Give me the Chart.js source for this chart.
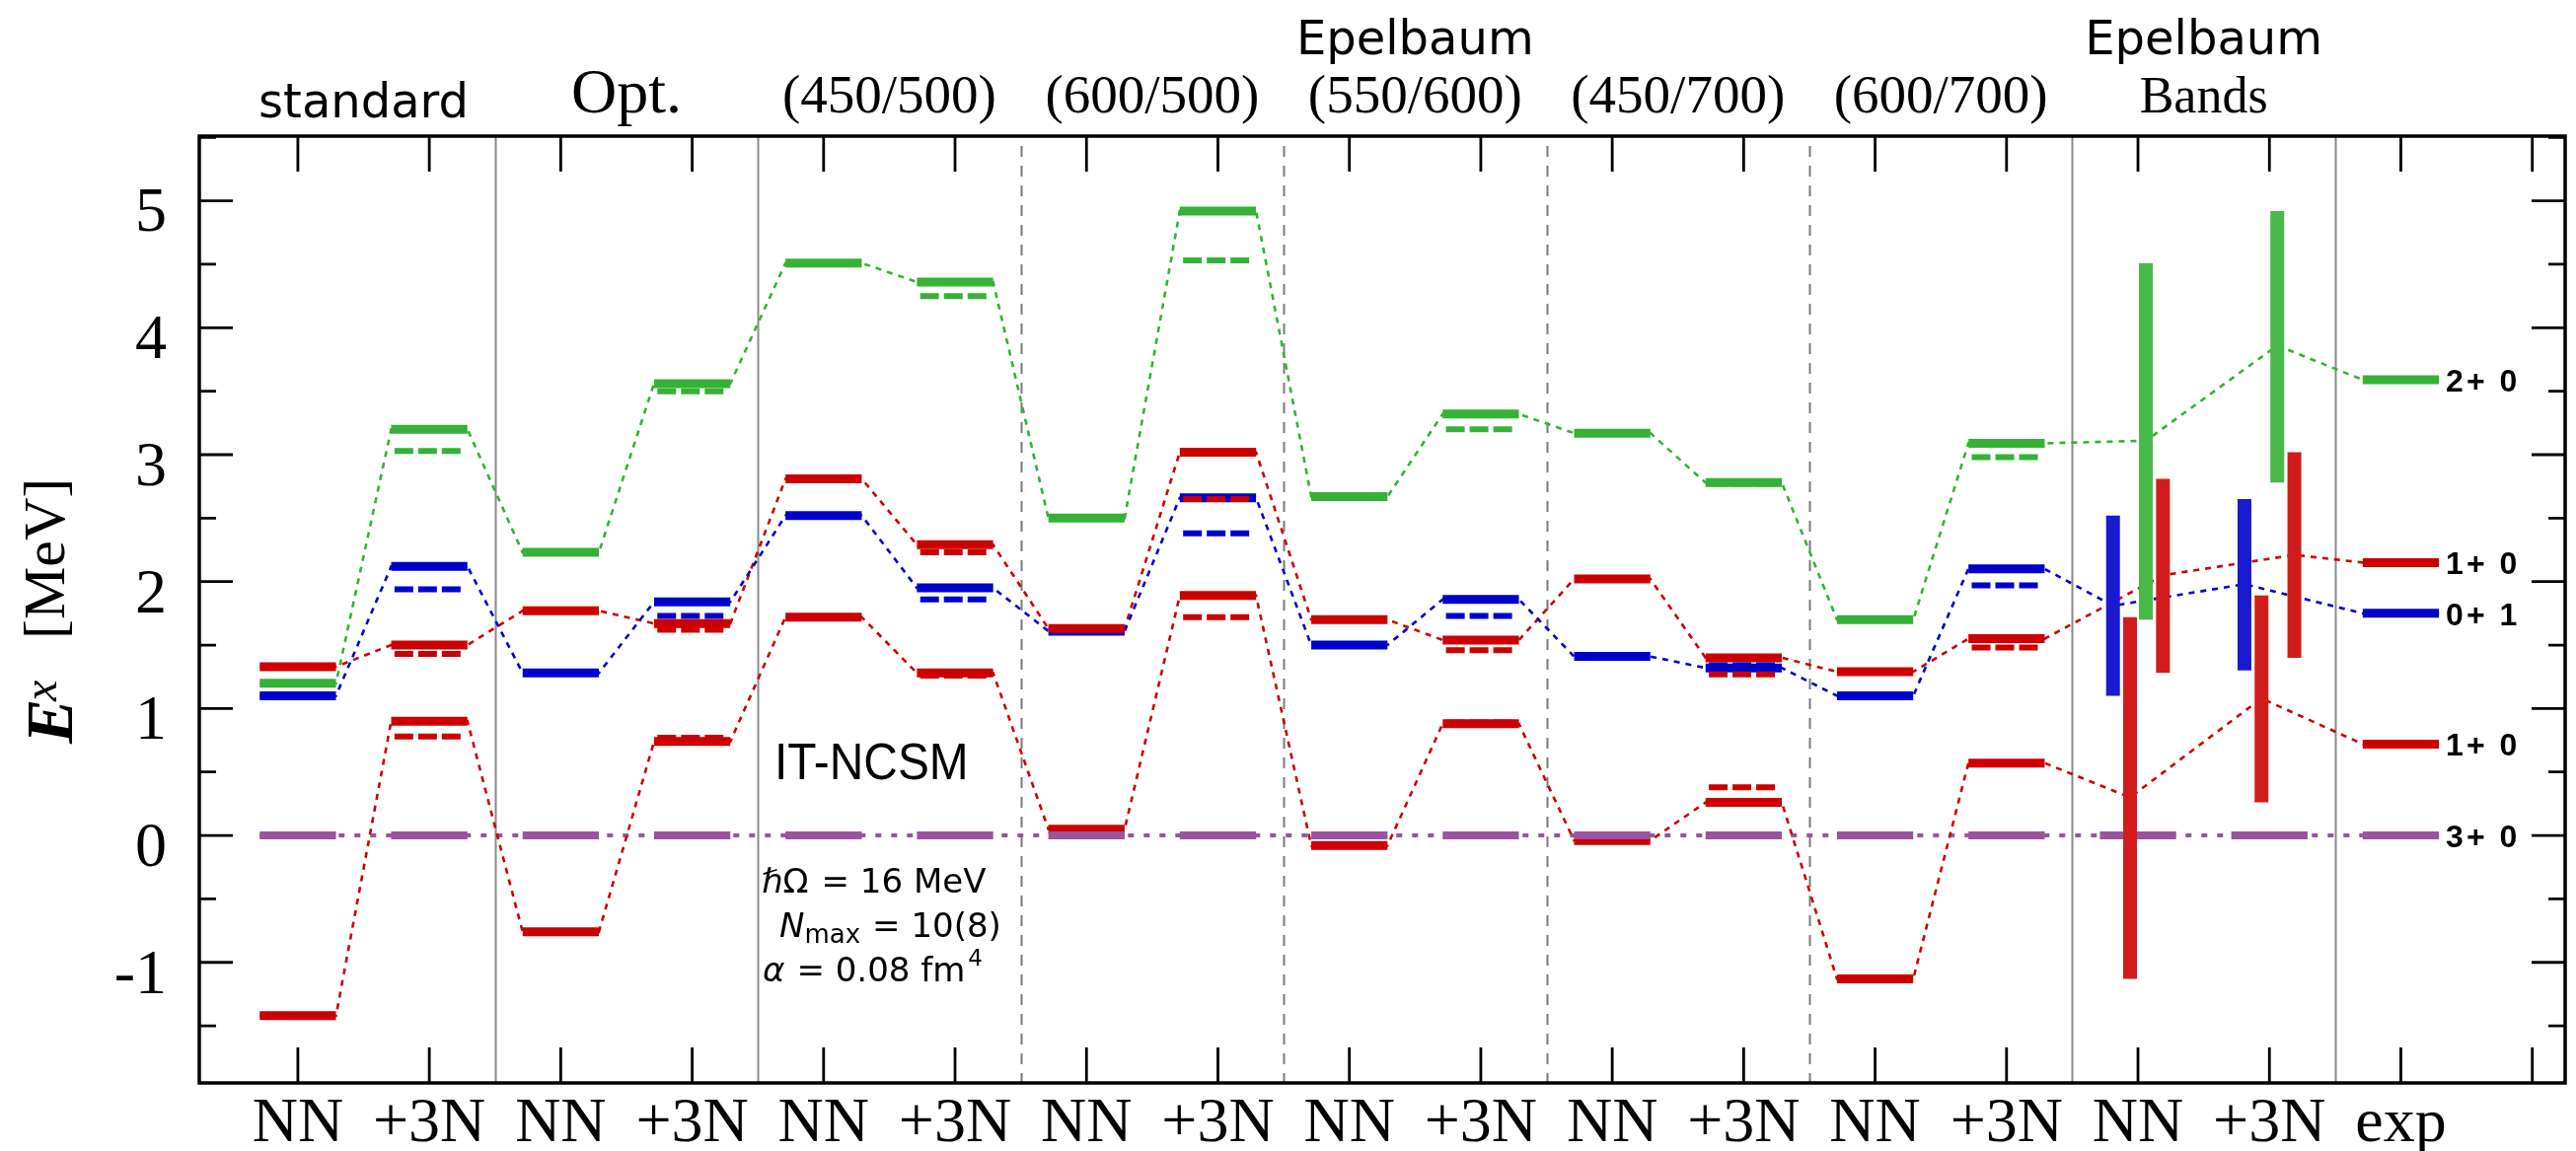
<!DOCTYPE html>
<html>
<head>
<meta charset="utf-8">
<script src="https://cdn.jsdelivr.net/npm/chart.js@4.4.0/dist/chart.umd.min.js"></script>
<style>
  html, body { margin: 0; padding: 0; background: #fff; }
</style>
</head>
<body>
<canvas id="levels" width="2611" height="1167"></canvas>
<script>
// column 1..17 on the x axis, 18 is an unlabelled closing tick
const columnLabels = ['NN', '+3N', 'NN', '+3N', 'NN', '+3N', 'NN', '+3N', 'NN', '+3N',
  'NN', '+3N', 'NN', '+3N', 'NN', '+3N', 'exp'];
const xTicks = [1, 2, 3, 4, 5, 6, 7, 8, 9, 10, 11, 12, 13, 14, 15, 16, 17, 18];
const yTicks = [-1.5, -1, -0.5, 0, 0.5, 1, 1.5, 2, 2.5, 3, 3.5, 4, 4.5, 5, 5.5];

// one title block per pair of columns
const groupTitles = [['standard'], ['Opt.'], ['(450/500)'], ['(600/500)'], ['Epelbaum', '(550/600)'],
  ['(450/700)'], ['(600/700)'], ['Epelbaum', 'Bands']];
const groupEdgeDashed = [false, false, true, true, true, true, false, false];
const bandColumns = [15, 16];

// excitation energies in MeV (solid = Nmax 10, dashed = Nmax 8), null = nothing drawn
const level2p0 = [1.20, 3.20, 2.23, 3.56, 4.51, 4.36, 2.50, 4.92, 2.67, 3.32, 3.17, 2.78, 1.70, 3.09, null, null, 3.59];
const level2p0Nm8 = [null, 3.03, null, 3.50, null, 4.25, null, 4.53, null, 3.20, null, 2.77, null, 2.98, null, null, null];
const level0p1 = [1.10, 2.12, 1.28, 1.84, 2.52, 1.95, 1.61, 2.66, 1.50, 1.86, 1.41, 1.32, 1.10, 2.10, null, null, 1.75];
const level0p1Nm8 = [null, 1.94, null, 1.73, null, 1.86, null, 2.38, null, 1.73, null, 1.34, null, 1.97, null, null, null];
const level1p0b = [1.33, 1.50, 1.77, 1.67, 2.81, 2.29, 1.63, 3.02, 1.70, 1.54, 2.02, 1.40, 1.29, 1.55, null, null, 2.15];
const level1p0bNm8 = [null, 1.43, null, 1.62, null, 2.23, null, 2.65, null, 1.46, null, 1.27, null, 1.48, null, null, null];
const level1p0a = [-1.42, 0.90, -0.76, 0.74, 1.72, 1.28, 0.05, 1.89, -0.08, 0.88, -0.04, 0.26, -1.13, 0.57, null, null, 0.72];
const level1p0aNm8 = [null, 0.78, null, 0.77, null, 1.26, null, 1.72, null, 0.89, null, 0.38, null, 0.57, null, null, null];
const level3p0 = [0, 0, 0, 0, 0, 0, 0, 0, 0, 0, 0, 0, 0, 0, 0, 0, 0];

// Epelbaum bands: [low, high] for NN and +3N, plus the point the dotted link goes through
const band2p0 = [[1.70, 4.51], [2.78, 4.92]];
const band0p1 = [[1.10, 2.52], [1.30, 2.65]];
const band1p0b = [[1.28, 2.81], [1.40, 3.02]];
const band1p0a = [[-1.13, 1.72], [0.26, 1.89]];
const link2p0 = [3.11, 3.86];
const link0p1 = [1.81, 1.98];
const link1p0b = [2.05, 2.21];
const link1p0a = [0.30, 1.08];

const expLabels = ['2+ 0', '1+ 0', '0+ 1', '1+ 0', '3+ 0'];

const HALF = 0.29;             // half width of a level bar (x units)
const DASH_L = 0.265, DASH_R = 0.24;

const series = [
  { solid: level0p1, dashed: level0p1Nm8, band: band0p1, link: link0p1, shift: -0.19, color: '#0000cc', bandColor: '#1a1ad0', order: 50 },
  { solid: level2p0, dashed: level2p0Nm8, band: band2p0, link: link2p0, shift: 0.06, color: '#35b235', bandColor: '#48b948', order: 45 },
  { solid: level1p0b, dashed: level1p0bNm8, band: band1p0b, link: link1p0b, shift: 0.19, color: '#cc0000', bandColor: '#d21c1c', order: 40 },
  { solid: level1p0a, dashed: level1p0aNm8, band: band1p0a, link: link1p0a, shift: -0.06, color: '#cc0000', bandColor: '#d21c1c', order: 40 },
  { solid: level3p0, color: '#9b53a0', order: 20, barWidth: 8, linkDash: [6, 10], linkWidth: 4 }
];
const expSeries = [level2p0, level1p0b, level0p1, level1p0a, level3p0];

function barPoints(values, left, right) {
  const pts = [];
  values.forEach((v, i) => {
    if (v === null) return;
    pts.push({ x: i + 1 - left, y: v }, { x: i + 1 + right, y: v }, { x: i + 1 + right, y: null });
  });
  return pts;
}

function linkPoints(values, link, shift) {
  const pts = [];
  values.forEach((v, i) => {
    const x = i + 1;
    if (v !== null) {
      pts.push({ x: x - HALF, y: v }, { x: x + HALF, y: v });
    } else if (link && bandColumns.includes(x)) {
      pts.push({ x: x + shift, y: link[bandColumns.indexOf(x)] });
    }
  });
  return pts;
}

function bandPoints(band, shift) {
  const pts = [];
  band.forEach((b, k) => {
    const x = bandColumns[k] + shift;
    pts.push({ x: x, y: b[0] }, { x: x, y: b[1] }, { x: x, y: null });
  });
  return pts;
}

const datasets = [];
series.forEach(s => {
  datasets.push({ data: linkPoints(s.solid, s.link, s.shift), borderColor: s.color,
    borderWidth: s.linkWidth || 2.6, borderDash: s.linkDash || [6, 6], order: 60 });
  datasets.push({ data: barPoints(s.solid, HALF, HALF), borderColor: s.color,
    borderWidth: s.barWidth || 9, order: s.order });
  if (s.dashed) {
    datasets.push({ data: barPoints(s.dashed, DASH_L, DASH_R), borderColor: s.color,
      borderWidth: 6, borderDash: [19, 5], order: 30 });
  }
  if (s.band) {
    datasets.push({ data: bandPoints(s.band, s.shift), borderColor: s.bandColor, borderWidth: 14, order: 10 });
  }
});

// separators, frame and inward ticks
const framePlugin = {
  id: 'frame',
  beforeDatasetsDraw(chart) {
    const { ctx, chartArea: a, scales: { x } } = chart;
    ctx.save();
    groupEdgeDashed.forEach((dashed, g) => {
      const px = Math.round(x.getPixelForValue(2 * g + 2.5)) + 0.5;
      ctx.beginPath();
      ctx.strokeStyle = dashed ? '#7a7a7a' : '#8a8a8a';
      ctx.lineWidth = 2;
      ctx.setLineDash(dashed ? [11, 9] : []);
      ctx.lineDashOffset = dashed ? -10 : 0;
      ctx.moveTo(px, a.top);
      ctx.lineTo(px, a.bottom);
      ctx.stroke();
    });
    ctx.restore();
  },
  afterDatasetsDraw(chart) {
    const { ctx, chartArea: a, scales: { x, y } } = chart;
    ctx.save();
    ctx.strokeStyle = '#000';
    ctx.lineWidth = 2.8;
    ctx.beginPath();
    x.ticks.forEach(t => {
      const px = x.getPixelForValue(t.value);
      ctx.moveTo(px, a.top); ctx.lineTo(px, a.top + 36);
      ctx.moveTo(px, a.bottom); ctx.lineTo(px, a.bottom - 36);
    });
    y.ticks.forEach(t => {
      const py = y.getPixelForValue(t.value);
      const len = Number.isInteger(t.value) ? 34 : 17;
      ctx.moveTo(a.left, py); ctx.lineTo(a.left + len, py);
      ctx.moveTo(a.right, py); ctx.lineTo(a.right - len, py);
    });
    ctx.stroke();
    ctx.lineWidth = 3.5;
    ctx.strokeRect(a.left, a.top, a.right - a.left, a.bottom - a.top);
    ctx.restore();
  }
};

const SANS = '"DejaVu Sans"';
const SERIF = '"Liberation Serif"';
const titleFonts = {
  'standard': '48px ' + SANS,
  'Epelbaum': '48px ' + SANS,
  'Opt.': '64px ' + SERIF,
  'Bands': '52px ' + SERIF
};

function drawRuns(ctx, x, y, runs) {
  let cx = x;
  runs.forEach(r => {
    ctx.font = r.font;
    ctx.fillText(r.text, cx, y + (r.dy || 0));
    cx += ctx.measureText(r.text).width + (r.after || 0);
  });
}

const textPlugin = {
  id: 'texts',
  afterDraw(chart) {
    const { ctx, chartArea: a, scales: { x, y } } = chart;
    ctx.save();
    ctx.fillStyle = '#000';

    // group titles above the frame
    ctx.textAlign = 'center';
    ctx.textBaseline = 'alphabetic';
    groupTitles.forEach((lines, g) => {
      const cx = x.getPixelForValue(2 * g + 1.5);
      lines.forEach((t, k) => {
        ctx.font = titleFonts[t] || ('55px ' + SERIF);
        const base = lines.length === 2 && k === 0 ? 55 : (t === 'standard' ? 119 : 114);
        ctx.fillText(t, cx, base);
      });
    });

    // state labels next to the experimental levels
    ctx.textAlign = 'left';
    ctx.textBaseline = 'middle';
    ctx.font = 'bold 32px "Liberation Sans"';
    ctx.letterSpacing = '3px';
    expLabels.forEach((lab, k) => {
      const vals = expSeries[k];
      const v = vals[vals.length - 1];
      ctx.fillText(lab, x.getPixelForValue(17 + HALF) + 7, y.getPixelForValue(v) + 3);
    });
    ctx.letterSpacing = '0px';

    // method and model-space notes
    ctx.textBaseline = 'alphabetic';
    ctx.save();
    ctx.translate(785, 790);
    ctx.scale(0.92, 1);
    ctx.font = '52px "Liberation Sans"';
    ctx.fillText('IT-NCSM', 0, 0);
    ctx.restore();
    drawRuns(ctx, 772, 905, [
      { text: '\u210FΩ', font: '34px ' + SANS, after: 13 },
      { text: '= 16 MeV', font: '34px ' + SANS }
    ]);
    drawRuns(ctx, 790, 950, [
      { text: 'N', font: 'oblique 34px ' + SANS },
      { text: 'max', font: '26px ' + SANS, dy: 6, after: 12 },
      { text: '= 10(8)', font: '34px ' + SANS }
    ]);
    drawRuns(ctx, 773, 995, [
      { text: 'α', font: 'oblique 34px ' + SANS, after: 12 },
      { text: '= 0.08 fm', font: '34px ' + SANS, after: 3 },
      { text: '4', font: '23px ' + SANS, dy: -16 }
    ]);

    // y axis title, rotated (reads bottom to top)
    ctx.translate(65, (a.top + a.bottom) / 2);
    ctx.rotate(-Math.PI / 2);
    ctx.font = 'italic bold 68px ' + SERIF;
    ctx.fillText('E', -136, 8);
    ctx.font = 'italic 48px ' + SERIF;
    ctx.fillText('x', -93, -8);
    ctx.font = '60px ' + SERIF;
    ctx.fillText('[MeV]', -30, 0);
    ctx.restore();
  }
};

new Chart(document.getElementById('levels'), {
  type: 'line',
  data: { datasets: datasets },
  options: {
    responsive: false,
    animation: false,
    events: [],
    layout: { padding: { top: 138, right: 11, left: 0, bottom: 0 } },
    elements: {
      point: { radius: 0, hoverRadius: 0 },
      line: { tension: 0, fill: false, borderCapStyle: 'butt', borderJoinStyle: 'miter' }
    },
    plugins: { legend: { display: false }, tooltip: { enabled: false } },
    scales: {
      x: {
        type: 'linear', min: 0.25, max: 18.25,
        grid: { display: false, drawTicks: false },
        border: { display: false },
        afterBuildTicks: s => { s.ticks = xTicks.map(v => ({ value: v })); },
        afterFit: s => { s.height = 69; },
        ticks: {
          autoSkip: false, maxRotation: 0, padding: 4, color: '#000',
          font: { family: 'Liberation Serif', size: 64, lineHeight: 1.2 },
          callback: v => columnLabels[v - 1] || ''
        }
      },
      y: {
        type: 'linear', min: -1.95, max: 5.51,
        grid: { display: false, drawTicks: false },
        border: { display: false },
        afterBuildTicks: s => { s.ticks = yTicks.map(v => ({ value: v })); },
        afterFit: s => { s.width = 202; },
        ticks: {
          padding: 33, labelOffset: 14, color: '#000',
          font: { family: 'Liberation Serif', size: 64, lineHeight: 1 },
          callback: v => Number.isInteger(v) ? String(v) : ''
        }
      }
    }
  },
  plugins: [framePlugin, textPlugin]
});
</script>
</body>
</html>
